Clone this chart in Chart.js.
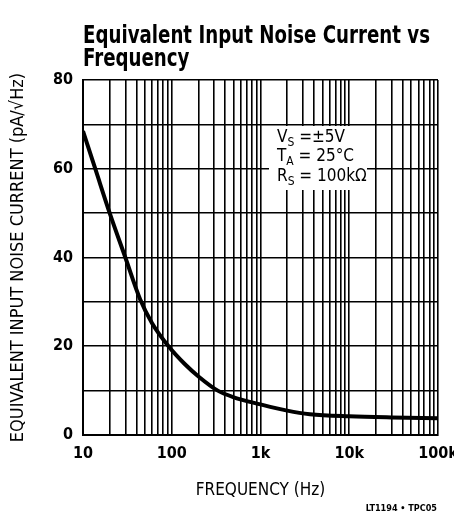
<!DOCTYPE html>
<html>
<head>
<meta charset="utf-8">
<script src="https://cdn.jsdelivr.net/npm/chart.js@4/dist/chart.umd.min.js"></script>
<style>
  html, body { margin: 0; padding: 0; background: #fff; }
  #wrap { width: 454px; height: 513px; }
</style>
</head>
<body>
<div id="wrap"><canvas id="grafico" width="454" height="513"></canvas></div>
<script>
// frequency (Hz) and noise current (pA/rtHz)
let freq  = [10, 14, 20, 30, 44, 60, 92, 140, 200, 330, 500, 1000, 2000, 3600, 10000, 30000, 100000];
let ruido = [68.5, 59.5, 50, 40, 30.6, 25.2, 20, 16, 13.2, 10, 8.5, 6.9, 5.5, 4.7, 4.2, 3.95, 3.8];

let decadas = [10, 100, 1000, 10000, 100000];
let rotulosX = ['10', '100', '1k', '10k', '100k'];
let rotulosY = [0, 20, 40, 60, 80];

const FONTE = '"Liberation Sans Narrow", "DejaVu Sans Condensed", sans-serif';

// vertical grid: 1..9 in every decade
let linhasX = [];
decadas.forEach(d => {
    for (let m = 1; m <= 9; m++) {
        if (d * m <= 100000) linhasX.push(d * m);
    }
});

// title, conditions box and part number
const textos = {
    id: 'textos',
    afterDatasetsDraw(chart) {
        const ctx = chart.ctx;
        const a = chart.chartArea;
        ctx.save();

        // conditions
        ctx.fillStyle = '#fff';
        ctx.fillRect(269, 126, 98, 64);
        ctx.fillStyle = '#000';
        let linhas = [
            ['V', 'S', ' =\u00b15V', 142],
            ['T', 'A', ' = 25\u00b0C', 161],
            ['R', 'S', ' = 100k\u03a9', 181]
        ];
        linhas.forEach(l => {
            let x = 277;
            ctx.font = '17px ' + FONTE;
            ctx.fillText(l[0], x, l[3]);
            x += ctx.measureText(l[0]).width;
            ctx.font = '12px ' + FONTE;
            ctx.fillText(l[1], x, l[3] + 4);
            x += ctx.measureText(l[1]).width;
            ctx.font = '17px ' + FONTE;
            ctx.fillText(l[2], x, l[3]);
        });

        // title, squeezed to the width of the plot
        ctx.font = 'bold 24px ' + FONTE;
        ctx.textAlign = 'left';
        let t1 = 'Equivalent Input Noise Current vs';
        let k = 347 / ctx.measureText(t1).width;
        ctx.save();
        ctx.translate(a.left, 0);
        ctx.scale(k, 1);
        ctx.fillText(t1, 0, 43);
        ctx.fillText('Frequency', 0, 66);
        ctx.restore();

        // part number
        ctx.font = 'bold 9px ' + FONTE;
        ctx.textAlign = 'right';
        ctx.fillText('LT1194 \u2022 TPC05', 437, 511);
        ctx.restore();
    }
};

window.onload = function(){

    new Chart(document.getElementById('grafico'), {
        type: 'line',
        data: {
            datasets: [{
                label: 'Noise current',
                data: freq.map((f, i) => ({ x: f, y: ruido[i] })),
                borderColor: '#000',
                borderWidth: 4,
                pointRadius: 0,
                cubicInterpolationMode: 'monotone',
                fill: false
            }]
        },
        options: {
            responsive: false,
            animation: false,
            layout: { padding: { top: 80, right: 16, left: 0, bottom: 0 } },
            plugins: {
                legend: { display: false },
                tooltip: { enabled: false }
            },
            scales: {
                x: {
                    type: 'logarithmic',
                    min: 10,
                    max: 100000,
                    afterBuildTicks: s => { s.ticks = linhasX.map(v => ({ value: v })); },
                    afterFit: s => { s.height = 78; s.paddingRight = 0; s.paddingLeft = 0; },
                    grid: { color: '#000', lineWidth: 1.6, drawTicks: false },
                    border: { color: '#000', width: 2 },
                    ticks: {
                        autoSkip: false,
                        maxRotation: 0,
                        padding: 9,
                        color: '#000',
                        font: { family: FONTE, size: 16, weight: 'bold' },
                        callback: v => {
                            let i = decadas.indexOf(v);
                            return i >= 0 ? rotulosX[i] : '';
                        }
                    },
                    title: {
                        display: true,
                        text: 'FREQUENCY (Hz)',
                        color: '#000',
                        font: { family: FONTE, size: 17 },
                        padding: { top: 0, bottom: 12 }
                    }
                },
                y: {
                    min: 0,
                    max: 80,
                    afterFit: s => { s.width = 83; },
                    grid: { color: '#000', lineWidth: 1.6, drawTicks: false },
                    border: { color: '#000', width: 2 },
                    ticks: {
                        stepSize: 10,
                        padding: 10,
                        color: '#000',
                        font: { family: FONTE, size: 16, weight: 'bold' },
                        callback: v => rotulosY.includes(v) ? v : ''
                    },
                    title: {
                        display: true,
                        text: 'EQUIVALENT INPUT NOISE CURRENT (pA/\u221aHz)',
                        color: '#000',
                        font: { family: FONTE, size: 18 },
                        padding: { top: 8, bottom: 0 }
                    }
                }
            }
        },
        plugins: [textos]
    });

}
</script>
</body>
</html>
